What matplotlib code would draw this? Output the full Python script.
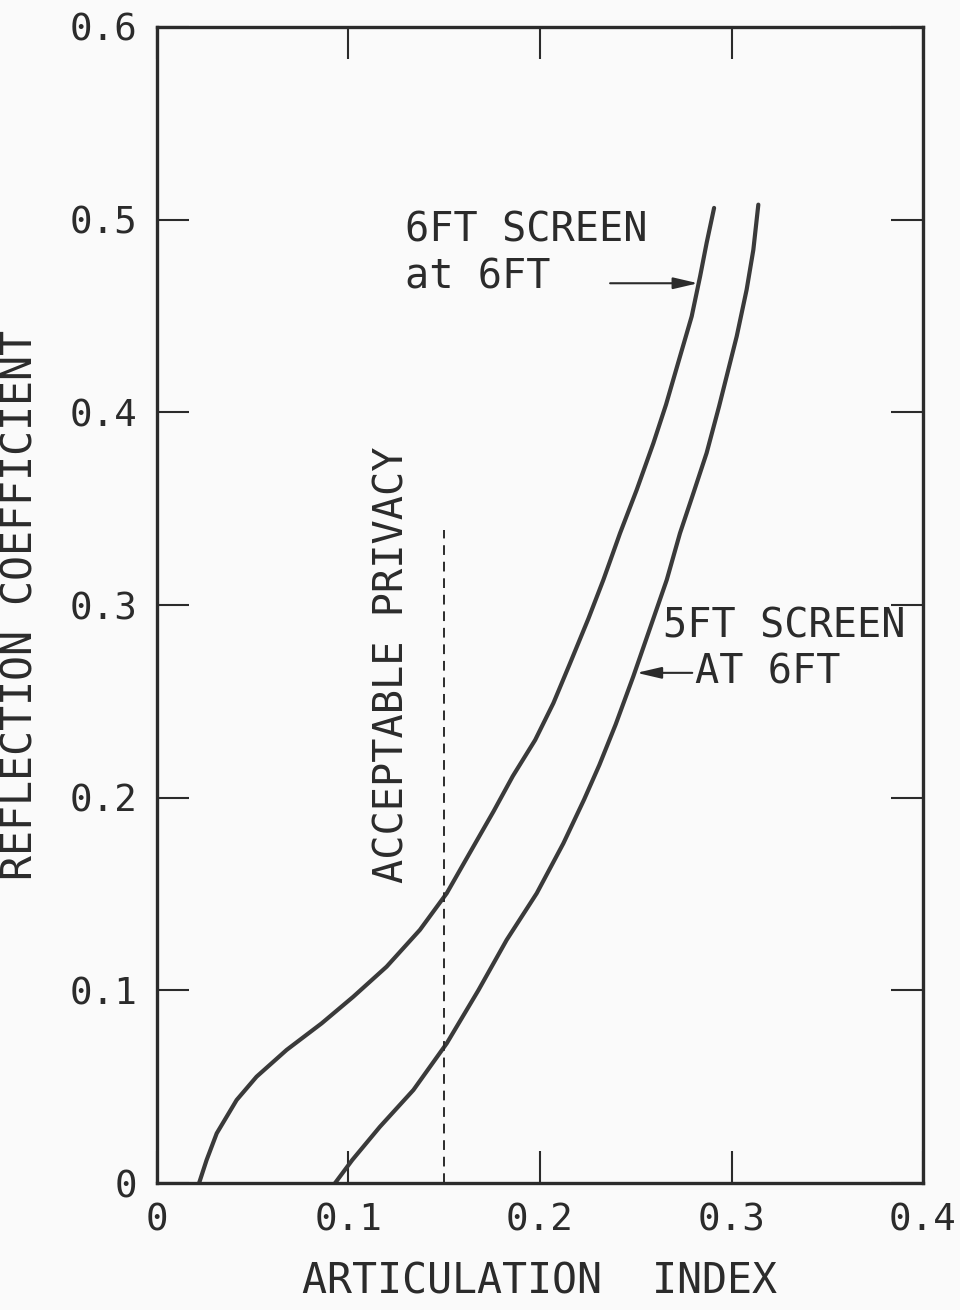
import matplotlib
matplotlib.use("Agg")
import matplotlib.pyplot as plt

# 6 FT screen at 6 FT
ai_6ft = [0.0220, 0.0259, 0.0312, 0.0416, 0.0520, 0.0677, 0.0860, 0.1025, 0.1199, 0.1373,
          0.1513, 0.1652, 0.1758, 0.1858, 0.1975, 0.2070, 0.2157, 0.2253, 0.2331,
          0.2418, 0.2505, 0.2592, 0.2658, 0.2731, 0.2792, 0.2836, 0.2870, 0.2909]
rc_6ft = [0.0, 0.0119, 0.0258, 0.0431, 0.0552, 0.0691, 0.0829, 0.0967, 0.1123, 0.1314,
          0.1504, 0.1746, 0.1930, 0.2112, 0.2300, 0.2491, 0.2698, 0.2930, 0.3131,
          0.3373, 0.3598, 0.3840, 0.4040, 0.4290, 0.4498, 0.4706, 0.4879, 0.5061]

# 5 FT screen at 6 FT
ai_5ft = [0.0930, 0.1020, 0.1164, 0.1339, 0.1513, 0.1678, 0.1826, 0.1983, 0.2122,
          0.2230, 0.2310, 0.2395, 0.2487, 0.2592, 0.2662, 0.2731, 0.2801, 0.2870,
          0.2935, 0.3027, 0.3079, 0.3114, 0.3140]
rc_5ft = [0.0, 0.0120, 0.0292, 0.0483, 0.0725, 0.1000, 0.1262, 0.1504, 0.1763,
          0.1990, 0.2170, 0.2380, 0.2629, 0.2930, 0.3131, 0.3373, 0.3581, 0.3789,
          0.4031, 0.4394, 0.4637, 0.4844, 0.5078]

privacy_ai = 0.15
privacy_top = 0.339

x_ticks = [0, 0.1, 0.2, 0.3, 0.4]
x_tick_labels = ["0", "0.1", "0.2", "0.3", "0.4"]
y_ticks = [0, 0.1, 0.2, 0.3, 0.4, 0.5, 0.6]
y_tick_labels = ["0", "0.1", "0.2", "0.3", "0.4", "0.5", "0.6"]

FONT = "DejaVu Sans Mono"
INK = "#2b2b2b"
BG = "#fafafa"

fig = plt.figure(figsize=(9.6, 13.1), dpi=100, facecolor=BG)
ax = fig.add_axes([0.1635, 0.0969, 0.9615 - 0.1635, 0.9794 - 0.0969], facecolor=BG)

ax.plot(ai_6ft, rc_6ft, color="#3a3a3a", lw=3.0, solid_capstyle="round",
        solid_joinstyle="round")
ax.plot(ai_5ft, rc_5ft, color="#3a3a3a", lw=3.0, solid_capstyle="round",
        solid_joinstyle="round")
ax.plot([privacy_ai, privacy_ai], [0, privacy_top], color=INK, lw=1.4,
        linestyle=(0, (5, 3.5)))

ax.set_xlim(0, 0.4)
ax.set_ylim(0, 0.6)
ax.set_xticks(x_ticks)
ax.set_xticklabels(x_tick_labels)
ax.set_yticks(y_ticks)
ax.set_yticklabels(y_tick_labels)

for s in ax.spines.values():
    s.set_linewidth(2.4)
    s.set_color(INK)

ax.tick_params(direction="in", length=23, width=1.5, color=INK,
               top=True, right=True, labelsize=27, pad=14, labelcolor=INK)
for lab in ax.get_xticklabels() + ax.get_yticklabels():
    lab.set_family(FONT)

ax.set_xlabel("ARTICULATION  INDEX", fontsize=30, family=FONT, color=INK, labelpad=16)
ax.set_ylabel("REFLECTION COEFFICIENT", fontsize=30, family=FONT, color=INK, labelpad=20)

ax.text(0.123, 0.269, "ACCEPTABLE PRIVACY", rotation=90, fontsize=29, family=FONT,
        color=INK, ha="center", va="center")

ax.text(0.1295, 0.4943, "6FT SCREEN", fontsize=29, family=FONT, color=INK,
        ha="left", va="center")
ax.text(0.1295, 0.470, "at 6FT", fontsize=29, family=FONT, color=INK,
        ha="left", va="center")
ax.annotate("", xy=(0.2825, 0.467), xytext=(0.2366, 0.467),
            arrowprops=dict(arrowstyle="-|>,head_length=1.5,head_width=0.35",
                            color=INK, lw=1.5, shrinkA=0, shrinkB=0))

ax.text(0.2642, 0.2887, "5FT SCREEN", fontsize=29, family=FONT, color=INK,
        ha="left", va="center")
ax.text(0.281, 0.2648, "AT 6FT", fontsize=29, family=FONT, color=INK,
        ha="left", va="center")
ax.annotate("", xy=(0.2505, 0.2648), xytext=(0.2795, 0.2648),
            arrowprops=dict(arrowstyle="-|>,head_length=1.5,head_width=0.35",
                            color=INK, lw=1.5, shrinkA=0, shrinkB=0))

fig.savefig("out.png", dpi=100, facecolor=BG)
